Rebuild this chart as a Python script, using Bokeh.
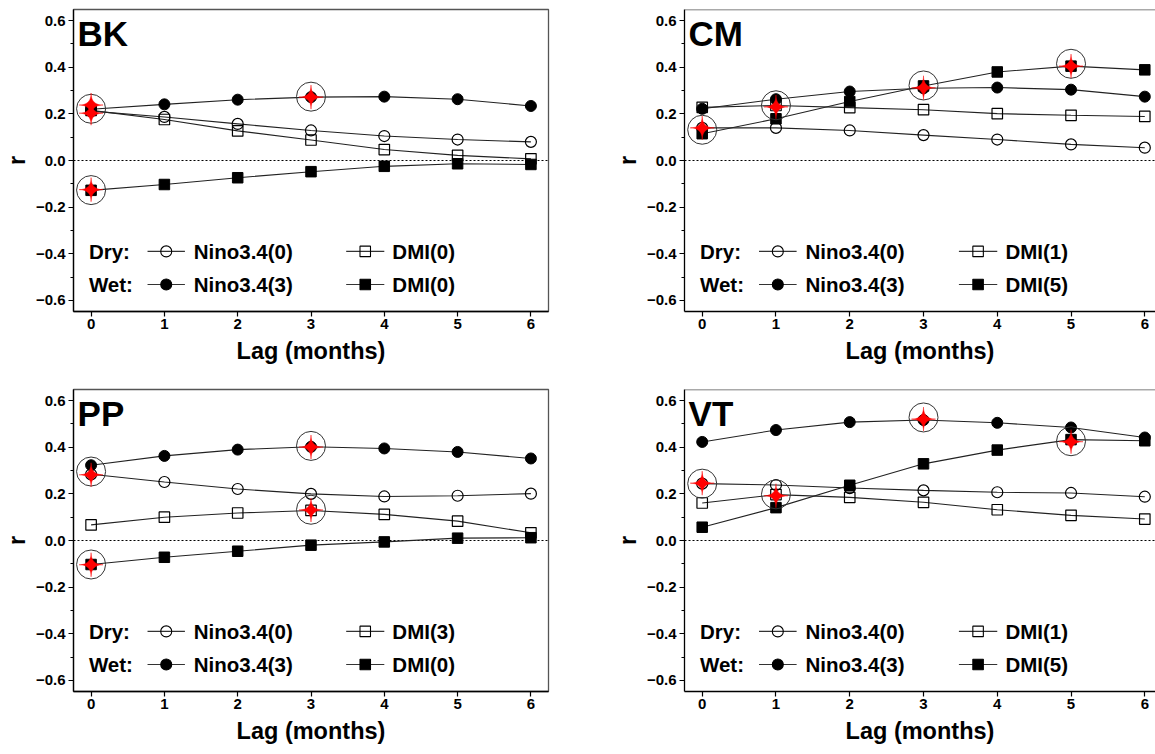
import numpy as np
from bokeh.plotting import figure
from bokeh.layouts import row, column
from bokeh.models import Range1d, FixedTicker, Span, CustomJSTickFormatter
from bokeh.embed import file_html
from bokeh.resources import INLINE
from bokeh.core.properties import value

FONT = "Liberation Sans"

# ---------------- data ----------------
lags = [0, 1, 2, 3, 4, 5, 6]
y_ticks = [-0.6, -0.4, -0.2, 0.0, 0.2, 0.4, 0.6]
y_minor = [-0.5, -0.3, -0.1, 0.1, 0.3, 0.5]
regions = ["BK", "CM", "PP", "VT"]

# BK
bk_dry_nino = [0.212, 0.187, 0.157, 0.129, 0.105, 0.090, 0.080]
bk_dry_dmi = [0.215, 0.176, 0.127, 0.088, 0.047, 0.022, 0.007]
bk_wet_nino = [0.220, 0.241, 0.261, 0.272, 0.274, 0.263, 0.234]
bk_wet_dmi = [-0.128, -0.103, -0.074, -0.048, -0.025, -0.014, -0.017]
bk_star_lag = [0, 0, 3, 0]
bk_star_r = [0.238, 0.203, 0.272, -0.125]
bk_ring_lag = [0, 3, 0]
bk_ring_r = [0.222, 0.274, -0.127]
bk_labels = ["Nino3.4(0)", "DMI(0)", "Nino3.4(3)", "DMI(0)"]

# CM
cm_dry_nino = [0.140, 0.140, 0.129, 0.109, 0.090, 0.069, 0.055]
cm_dry_dmi = [0.228, 0.236, 0.227, 0.218, 0.201, 0.194, 0.189]
cm_wet_nino = [0.222, 0.263, 0.296, 0.310, 0.313, 0.304, 0.274]
cm_wet_dmi = [0.115, 0.179, 0.253, 0.320, 0.380, 0.405, 0.389]
cm_star_lag = [0, 1, 3, 5]
cm_star_r = [0.140, 0.230, 0.312, 0.405]
cm_ring_lag = [0, 1, 3, 5]
cm_ring_r = [0.132, 0.237, 0.322, 0.415]
cm_labels = ["Nino3.4(0)", "DMI(1)", "Nino3.4(3)", "DMI(5)"]

# PP
pp_dry_nino = [0.284, 0.251, 0.221, 0.200, 0.189, 0.192, 0.201]
pp_dry_dmi = [0.067, 0.100, 0.118, 0.129, 0.112, 0.083, 0.033]
pp_wet_nino = [0.323, 0.363, 0.390, 0.402, 0.395, 0.380, 0.352]
pp_wet_dmi = [-0.103, -0.072, -0.046, -0.020, -0.006, 0.010, 0.012]
pp_star_lag = [0, 3, 3, 0]
pp_star_r = [0.282, 0.401, 0.131, -0.104]
pp_ring_lag = [0, 3, 3, 0]
pp_ring_r = [0.296, 0.406, 0.132, -0.103]
pp_labels = ["Nino3.4(0)", "DMI(3)", "Nino3.4(3)", "DMI(0)"]

# VT
vt_dry_nino = [0.244, 0.238, 0.225, 0.215, 0.207, 0.204, 0.188]
vt_dry_dmi = [0.161, 0.197, 0.185, 0.164, 0.132, 0.108, 0.092]
vt_wet_nino = [0.423, 0.474, 0.508, 0.517, 0.505, 0.485, 0.442]
vt_wet_dmi = [0.057, 0.141, 0.237, 0.329, 0.388, 0.433, 0.428]
vt_star_lag = [0, 1, 3, 5]
vt_star_r = [0.246, 0.192, 0.521, 0.424]
vt_ring_lag = [0, 1, 3, 5]
vt_ring_r = [0.244, 0.198, 0.528, 0.426]
vt_labels = ["Nino3.4(0)", "DMI(1)", "Nino3.4(3)", "DMI(5)"]

# ---------------- layout ----------------
X0, X1 = -0.24, 6.24
Y0, Y1 = -0.648, 0.648
FRAME_W = 478
FRAME_H = 302
PXX = FRAME_W / (X1 - X0)
PXY = FRAME_H / (Y1 - Y0)

fmt = CustomJSTickFormatter(code="""
    var s = Math.abs(tick).toFixed(1);
    return (tick < -1e-9 ? "\u2212" : "") + s;
""")


def star_shape(cx, cy, r_px=12.0, n=72):
    t = np.linspace(0, 2 * np.pi, n, endpoint=False)
    c, s = np.cos(t), np.sin(t)
    ux = np.sign(c) * np.abs(c) ** 4
    uy = np.sign(s) * np.abs(s) ** 4
    return list(cx + ux * r_px / PXX), list(cy + uy * r_px / PXY)


def make_panel(name, dn, dd, wn, wd, slag, sr, rlag, rr, labels, right_col, top_row):
    if right_col:
        width, mbl, mbr = 545, 74, 0
        fw = width - mbl - mbr
        xr = Range1d(X0, X0 + fw / PXX)
    else:
        width, mbl, mbr = 610, 70, 62
        xr = Range1d(X0, X1)
    if top_row:
        height, mbt, mbb = 380, 9, 69
    else:
        height, mbt, mbb = 374, 9, 63

    p = figure(width=width, height=height, x_range=xr, y_range=Range1d(Y0, Y1),
               output_backend="svg", toolbar_location=None,
               min_border_left=mbl, min_border_right=mbr,
               min_border_top=mbt, min_border_bottom=mbb)
    p.grid.visible = False
    p.background_fill_color = "white"
    p.border_fill_color = "white"
    if right_col:
        p.outline_line_color = None
        top = Span(location=Y1, dimension="width", line_color="#555555", line_width=1.3)
        p.add_layout(top)
    else:
        p.outline_line_color = "#555555"
        p.outline_line_width = 1.3

    zero = Span(location=0, dimension="width", line_color="black", line_width=1,
                line_dash="2 2", level="underlay")
    p.add_layout(zero)

    # axes
    for ax in (p.xaxis[0], p.yaxis[0]):
        ax.axis_line_color = "black"
        ax.axis_line_width = 1.3
        ax.major_tick_line_color = "black"
        ax.major_tick_line_width = 1.2
        ax.major_tick_in = 0
        ax.major_tick_out = 5
        ax.minor_tick_in = 0
        ax.major_label_text_font = FONT
        ax.major_label_text_font_style = "bold"
        ax.major_label_text_font_size = "15px"
        ax.major_label_text_color = "black"
        ax.axis_label_text_font = FONT
        ax.axis_label_text_font_style = "bold"
        ax.axis_label_text_font_size = "23.5px"
        ax.axis_label_text_color = "black"
    p.xaxis.ticker = FixedTicker(ticks=lags)
    p.xaxis.minor_tick_out = 0
    p.xaxis.major_label_standoff = 2
    p.xaxis.axis_label = "Lag (months)"
    p.xaxis.axis_label_standoff = 6
    p.yaxis.ticker = FixedTicker(ticks=y_ticks, minor_ticks=y_minor)
    p.yaxis.minor_tick_out = 3
    p.yaxis.minor_tick_line_color = "black"
    p.yaxis.minor_tick_line_width = 1.2
    p.yaxis.formatter = fmt
    p.yaxis.major_label_standoff = 3
    p.yaxis.axis_label = "r"
    p.yaxis.axis_label_standoff = 3

    lc = "#222222"
    # series lines
    for ys in (dn, dd, wn, wd):
        p.line(lags, ys, line_color=lc, line_width=1.1)
    # markers
    p.scatter(lags, dn, marker="circle", size=11, fill_color=None, line_color="black", line_width=1.2)
    p.scatter(lags, dd, marker="square", size=10.5, fill_color=None, line_color="black", line_width=1.2)
    p.scatter(lags, wn, marker="circle", size=11, fill_color="black", line_color="black")
    p.scatter(lags, wd, marker="square", size=10.5, fill_color="black", line_color="black")

    # highlight rings and stars
    p.scatter(rlag, rr, marker="circle", size=29, fill_color=None, line_color="#333333", line_width=1)
    sxs, sys_ = [], []
    for a, b in zip(slag, sr):
        xs_, ys_ = star_shape(a, b)
        sxs.append(xs_)
        sys_.append(ys_)
    p.patches(sxs, sys_, fill_color="red", line_color="red", line_width=0.5)

    # panel label
    p.text(x=[-0.185], y=[0.545], text=[name], text_font=value(FONT), text_font_style="bold",
           text_font_size="35px", text_baseline="middle", text_color="black")

    # legend (drawn in data space)
    row_y = [-0.390, -0.532]
    p.text(x=[-0.03, -0.03], y=row_y, text=["Dry:", "Wet:"], text_font=value(FONT),
           text_font_style="bold", text_font_size="20.5px", text_baseline="middle", text_color="black")
    seg_cols = [(0.77, 1.28, 1.025, 1.40), (3.48, 4.00, 3.74, 4.11)]
    # order: dry nino, dry dmi, wet nino, wet dmi
    items = [(0, 0, "circle", None), (0, 1, "square", None),
             (1, 0, "circle", "black"), (1, 1, "square", "black")]
    for k, (ri, ci, mk, fill) in enumerate(items):
        a, b, m, tx = seg_cols[ci]
        yv = row_y[ri]
        p.line([a, b], [yv, yv], line_color="#333333", line_width=1.1)
        p.scatter([m], [yv], marker=mk, size=11 if mk == "circle" else 10.5,
                  fill_color=fill, line_color="black", line_width=1.1)
        p.text(x=[tx], y=[yv], text=[labels[k]], text_font=value(FONT), text_font_style="bold",
               text_font_size="20.5px", text_baseline="middle", text_color="black")
    return p


p_bk = make_panel("BK", bk_dry_nino, bk_dry_dmi, bk_wet_nino, bk_wet_dmi,
                  bk_star_lag, bk_star_r, bk_ring_lag, bk_ring_r, bk_labels, False, True)
p_cm = make_panel("CM", cm_dry_nino, cm_dry_dmi, cm_wet_nino, cm_wet_dmi,
                  cm_star_lag, cm_star_r, cm_ring_lag, cm_ring_r, cm_labels, True, True)
p_pp = make_panel("PP", pp_dry_nino, pp_dry_dmi, pp_wet_nino, pp_wet_dmi,
                  pp_star_lag, pp_star_r, pp_ring_lag, pp_ring_r, pp_labels, False, False)
p_vt = make_panel("VT", vt_dry_nino, vt_dry_dmi, vt_wet_nino, vt_wet_dmi,
                  vt_star_lag, vt_star_r, vt_ring_lag, vt_ring_r, vt_labels, True, False)

layout = column(row(p_bk, p_cm, spacing=0), row(p_pp, p_vt, spacing=0), spacing=0)

open("out.html", "w").write(file_html(layout, INLINE))
